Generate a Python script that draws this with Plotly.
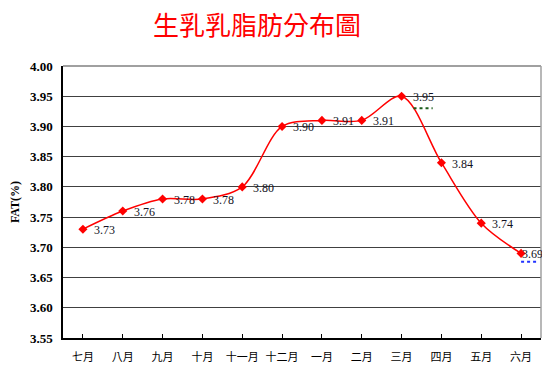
import plotly.graph_objects as go

title_text = "生乳乳脂肪分布圖"
months = ["七月", "八月", "九月", "十月", "十一月", "十二月", "一月", "二月", "三月", "四月", "五月", "六月"]
fat = [3.73, 3.76, 3.78, 3.78, 3.80, 3.90, 3.91, 3.91, 3.95, 3.84, 3.74, 3.69]
labels = [f"{v:.2f}" for v in fat]
y_ticks = [3.55, 3.60, 3.65, 3.70, 3.75, 3.80, 3.85, 3.90, 3.95, 4.00]

serif = "Liberation Serif, Times New Roman, serif"
cjk = "Noto Sans CJK TC, Noto Sans CJK SC, sans-serif"

fig = go.Figure()
fig.add_trace(go.Scatter(
    x=list(range(len(months))), y=fat,
    mode="lines+markers",
    line=dict(color="#ff0000", width=1.5, shape="spline", smoothing=0.9),
    marker=dict(symbol="diamond", size=7, color="#ff0000"),
    hoverinfo="skip",
))

# data labels to the right of each point (last one pulled inside the plot)
for i, (v, t) in enumerate(zip(fat, labels)):
    last = i == len(fat) - 1
    fig.add_annotation(
        x=i, y=v, text=t, showarrow=False, xref="x", yref="y",
        xanchor="left", yanchor="middle",
        xshift=-1 if last else 9, yshift=-1,
        font=dict(family=serif, size=12, color="#111122"),
    )

# chart title
fig.add_annotation(
    text=title_text, showarrow=False, xref="paper", yref="paper",
    x=0.406, y=1.155, xanchor="center", yanchor="middle",
    font=dict(family=cjk, size=26, color="#ff0000"),
)

# small dotted artefacts near 三月 and 六月 labels
fig.add_shape(type="line", xref="x", yref="y", x0=8.3, x1=8.78, y0=3.930, y1=3.930,
              line=dict(color="#1a5c1a", width=2, dash="dot"))
fig.add_shape(type="line", xref="x", yref="y", x0=11.0, x1=11.45, y0=3.676, y1=3.676,
              line=dict(color="#2233ff", width=2, dash="dot"))
# gray top and right border of plot area
fig.add_shape(type="line", xref="paper", yref="paper", x0=1, x1=1, y0=0, y1=1,
              line=dict(color="#a0a0a0", width=1.5))
fig.add_shape(type="line", xref="paper", yref="paper", x0=0, x1=1, y0=1, y1=1,
              line=dict(color="#a0a0a0", width=2))

fig.update_layout(
    width=534, height=361,
    margin=dict(l=55, r=1, t=58, b=31),
    paper_bgcolor="white", plot_bgcolor="white",
    showlegend=False,
    xaxis=dict(
        tickmode="array", tickvals=list(range(len(months))), ticktext=months,
        range=[-0.5, 11.5], showgrid=False, zeroline=False,
        showline=True, linecolor="#000000", linewidth=1.5,
        ticks="inside", tickson="boundaries", ticklen=4, tickcolor="#000000",
        tickfont=dict(family=cjk, size=11, color="#000000"),
        ticklabelstandoff=8,
    ),
    yaxis=dict(
        range=[3.55, 4.00], tickmode="array", tickvals=y_ticks,
        ticktext=[f"<b>{v:.2f}</b>" for v in y_ticks],
        showgrid=True, gridcolor="#404040", gridwidth=1, zeroline=False,
        showline=True, linecolor="#000000", linewidth=1.5,
        ticks="", tickfont=dict(family=serif, size=13, color="#000000"),
        ticklabelstandoff=6,
        title=dict(text="<b>FAT(%)</b>", font=dict(family=serif, size=12, color="#000000"), standoff=8),
    ),
)

fig.write_html("out.html")
